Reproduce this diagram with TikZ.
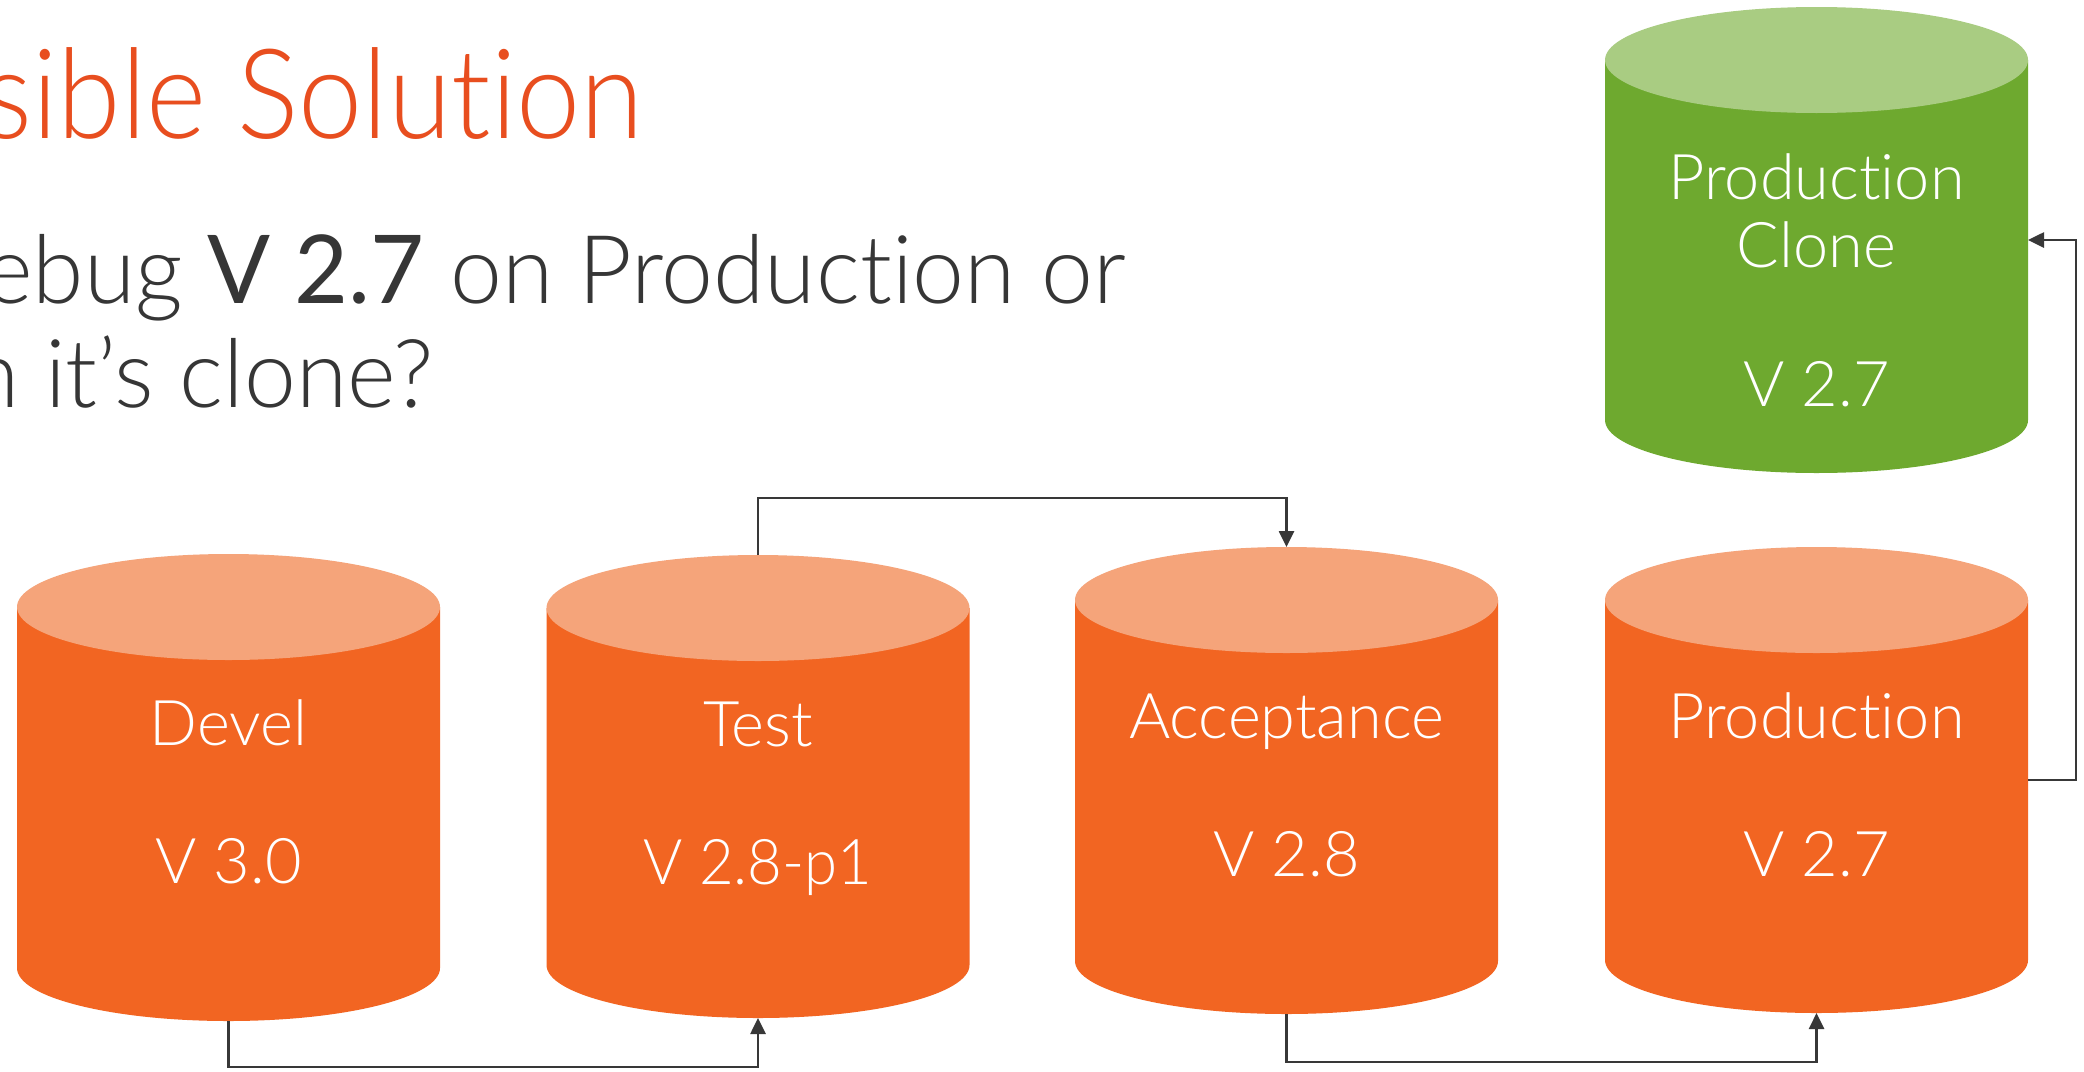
\documentclass[tikz,border=0pt]{standalone}
\usepackage{fontspec}
\usepackage{graphicx}
\setmainfont{Lato Light}[Ligatures=NoCommon]
\newfontfamily\regfont{Lato}[Ligatures=NoCommon]
\usetikzlibrary{arrows.meta,calc}

\definecolor{orbody}{HTML}{F26522}
\definecolor{ortop}{HTML}{F5A47A}
\definecolor{grbody}{HTML}{6EA92F}
\definecolor{grtop}{HTML}{A9CC82}
\definecolor{titlecol}{HTML}{E84E1F}
\definecolor{textcol}{HTML}{363636}
\definecolor{linecol}{HTML}{383838}

% database cylinder: body with a lighter top ellipse
\newcommand\cylshape[3]{%
  \fill[#2] ([yshift=-53pt]#1.north west) -- ([yshift=53pt]#1.south west)
    arc[start angle=180, end angle=360, x radius=211.5pt, y radius=53pt]
    -- ([yshift=-53pt]#1.north east) -- cycle;
  \fill[#3] ([yshift=-53pt]#1.north) ellipse[x radius=211.5pt, y radius=53pt];
}

\tikzset{
  db/.style={minimum width=423pt, inner sep=0pt, outer sep=0pt},
  dblabel/.style={text=white, font=\fontsize{63}{75}\selectfont, anchor=base, inner sep=0pt},
  flow/.style={draw=linecol, line width=2.7pt, -{Triangle[length=16pt,width=15pt]}},
  heading/.style={text=titlecol, font=\fontsize{125}{140}\selectfont, anchor=base east, inner sep=0pt},
  question/.style={text=textcol, font=\fontsize{95}{110}\selectfont, anchor=base east, inner sep=0pt},
}

\begin{document}
\begin{tikzpicture}[x=1pt,y=-1pt]
  \useasboundingbox (0,0) rectangle (2084,1071);
  \clip (0,0) rectangle (2084,1071);
  \fill[white] (0,0) rectangle (2084,1071);

  % headline and question
  \node[heading] (ttl) at (644,138) {\scalebox{0.92}[1]{sible Solution}};
  \node[question] (q1) at (1126,303) {\scalebox{0.98}[1]{ebug {\regfont V 2.7} on Production or}};
  \node[question] (q2) at (434,407) {\scalebox{0.98}[1]{n it’s clone?}};

  % environments
  \node[db, minimum height=467pt] (devel)  at (228.5,787.5) {};
  \node[db, minimum height=463pt] (test)   at (758,786.5) {};
  \node[db, minimum height=467pt] (accept) at (1286.5,780.5) {};
  \node[db, minimum height=466pt] (prod)   at (1816.5,780) {};
  \node[db, minimum height=466pt] (clone)  at (1816.5,240) {};

  \cylshape{devel}{orbody}{ortop}
  \cylshape{test}{orbody}{ortop}
  \cylshape{accept}{orbody}{ortop}
  \cylshape{prod}{orbody}{ortop}
  \cylshape{clone}{grbody}{grtop}

  \node[dblabel] (develname) at ([yshift=-191pt]devel.north) {Devel};
  \node[dblabel] (develver)  at ([yshift=-329pt]devel.north) {V 3.0};
  \node[dblabel] (testname)  at ([yshift=-191pt]test.north) {Test};
  \node[dblabel] (testver)   at ([yshift=-329pt]test.north) {\scalebox{0.95}[1]{V 2.8-p1}};
  \node[dblabel] (accname)   at ([yshift=-191pt]accept.north) {Acceptance};
  \node[dblabel] (accver)    at ([yshift=-329pt]accept.north) {V 2.8};
  \node[dblabel] (prodname)  at ([yshift=-191pt]prod.north) {Production};
  \node[dblabel] (prodver)   at ([yshift=-329pt]prod.north) {V 2.7};
  \node[dblabel] (clname1)   at ([yshift=-192pt]clone.north) {Production};
  \node[dblabel] (clname2)   at ([yshift=-260pt]clone.north) {Clone};
  \node[dblabel] (clver)     at ([yshift=-399pt]clone.north) {V 2.7};

  % promotion paths
  \draw[flow] (devel.south) -- ++(0,46) -| (test.south);
  \coordinate (testup) at (758,498);
  \draw[flow] (test.north) -- (testup) -| (accept.north);
  \draw[flow] (accept.south) -- ++(0,48) -| (prod.south);
  \draw[flow] (prod.east) -- ++(48,0) |- (clone.east);
\end{tikzpicture}
\end{document}
